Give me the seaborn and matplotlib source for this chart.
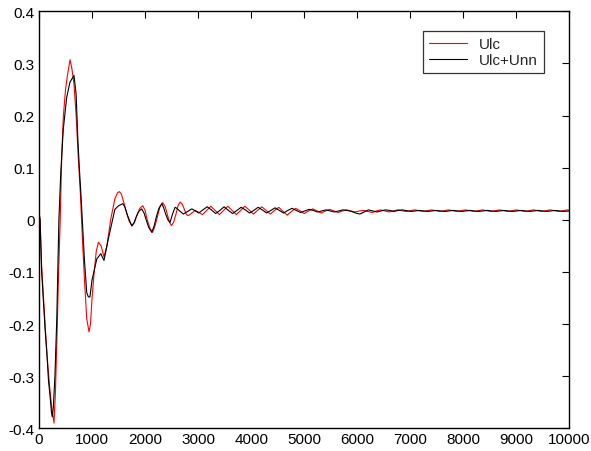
import matplotlib
matplotlib.use("Agg")
import matplotlib.pyplot as plt
import seaborn as sns
import pandas as pd

# Ulc response (red)
ulc_t = [0, 20, 50, 85, 120, 160, 200, 240, 283, 310, 340, 370, 400, 430, 460, 500,
         540, 585, 620, 660, 700, 740, 780, 820, 860, 900, 943, 970, 1000, 1040, 1080,
         1120, 1170, 1225, 1280, 1350, 1430, 1480, 1515, 1550, 1580, 1660, 1700, 1750,
         1800, 1850, 1900, 1955, 2000, 2040, 2090, 2140, 2180, 2230, 2280, 2330, 2380,
         2420, 2460, 2500, 2540, 2580, 2620, 2660, 2700, 2740, 2780, 2815, 2870, 2940,
         3000, 3080, 3160, 3240, 3320, 3400, 3480, 3560, 3640, 3720, 3800, 3880, 3960,
         4040, 4120, 4200, 4280, 4360, 4440, 4520, 4600, 4680, 4760, 4840, 4920, 5000,
         5080, 5160, 5240, 5320, 5400, 5480, 5560, 5640, 5720, 5800, 5880, 5960, 6040,
         6120, 6200, 6280, 6360, 6440, 6520, 6600, 6680, 6760, 6920, 7080, 7240, 7400,
         7560, 7720, 7880, 8040, 8200, 8360, 8520, 8680, 8840, 9000, 9160, 9320, 9480,
         9640, 9800, 9960, 10000]
ulc_v = [0.015, 0.0, -0.09, -0.15, -0.21, -0.27, -0.32, -0.36, -0.39, -0.33, -0.22,
         -0.10, 0.0, 0.13, 0.20, 0.25, 0.28, 0.307, 0.29, 0.26, 0.20, 0.12, 0.05, -0.04,
         -0.12, -0.19, -0.215, -0.20, -0.15, -0.10, -0.06, -0.043, -0.05, -0.071, -0.05,
         0.0, 0.04, 0.052, 0.054, 0.05, 0.04, 0.01, -0.003, -0.011, -0.005, 0.01, 0.022,
         0.027, 0.018, 0.0, -0.016, -0.024, -0.014, 0.005, 0.025, 0.033, 0.025, 0.01,
         -0.005, -0.011, -0.004, 0.01, 0.027, 0.034, 0.03, 0.02, 0.01, 0.008, 0.012,
         0.018, 0.015, 0.010, 0.018, 0.026, 0.018, 0.010, 0.018, 0.026, 0.018, 0.010,
         0.018, 0.026, 0.019, 0.011, 0.018, 0.025, 0.018, 0.011, 0.018, 0.024, 0.016,
         0.009, 0.016, 0.022, 0.017, 0.012, 0.017, 0.021, 0.017, 0.013, 0.017, 0.020,
         0.017, 0.014, 0.017, 0.019, 0.017, 0.015, 0.017, 0.018, 0.016, 0.014, 0.017,
         0.019, 0.017, 0.015, 0.017, 0.019, 0.016, 0.019, 0.016, 0.019, 0.016, 0.019,
         0.016, 0.019, 0.016, 0.019, 0.016, 0.019, 0.016, 0.019, 0.016, 0.019, 0.016,
         0.019, 0.016, 0.019, 0.018]

# Ulc+Unn response (black)
unn_t = [0, 20, 50, 80, 115, 150, 180, 210, 235, 250, 270, 300, 335, 375, 410, 458,
         522, 584, 660, 700, 730, 760, 790, 855, 900, 930, 960, 1000, 1090, 1165, 1225,
         1300, 1430, 1500, 1580, 1620, 1670, 1750, 1790, 1830, 1880, 1935, 1980, 2020,
         2070, 2125, 2170, 2210, 2260, 2315, 2350, 2390, 2430, 2470, 2520, 2565, 2600,
         2640, 2720, 2800, 2880, 2950,
         3010, 3090, 3170, 3250, 3330, 3410, 3490, 3570, 3650, 3730, 3810, 3890, 3970,
         4050, 4130, 4210, 4290, 4370, 4450, 4530, 4610, 4690, 4770, 4850, 4930, 5010,
         5090, 5170, 5250, 5330, 5410, 5490, 5570, 5650, 5730, 5810, 5890, 5970, 6050,
         6130, 6210, 6290, 6370, 6450, 6530, 6610, 6690, 6770, 6850, 7010, 7170, 7330,
         7490, 7650, 7810, 7970, 8130, 8290, 8450, 8610, 8770, 8930, 9090, 9250, 9410,
         9570, 9730, 9890, 10000]
unn_v = [0.014, 0.0, -0.10, -0.15, -0.21, -0.26, -0.31, -0.34, -0.37, -0.378, -0.36,
         -0.30, -0.19, 0.0, 0.09, 0.174, 0.235, 0.264, 0.277, 0.24, 0.16, 0.10, 0.05,
         -0.075, -0.14, -0.148, -0.148, -0.115, -0.075, -0.065, -0.078, -0.04, 0.02,
         0.027, 0.031, 0.024, 0.008, -0.012, -0.006, 0.005, 0.016, 0.021, 0.013, 0.0,
         -0.015, -0.024, -0.012, 0.005, 0.022, 0.031, 0.023, 0.01, 0.0, -0.005, 0.012,
         0.024, 0.022, 0.018, 0.011, 0.016, 0.021, 0.017,
         0.013, 0.019, 0.025, 0.019, 0.012, 0.018, 0.025, 0.018, 0.012, 0.018, 0.024,
         0.019, 0.013, 0.018, 0.024, 0.019, 0.013, 0.018, 0.023, 0.018, 0.013, 0.018,
         0.022, 0.018, 0.014, 0.017, 0.020, 0.018, 0.015, 0.017, 0.019, 0.017, 0.015,
         0.017, 0.019, 0.018, 0.016, 0.013, 0.011, 0.015, 0.019, 0.017, 0.015, 0.017,
         0.019, 0.018, 0.016, 0.018, 0.019, 0.016, 0.018, 0.016, 0.018, 0.016, 0.018,
         0.016, 0.018, 0.016, 0.018, 0.016, 0.018, 0.016, 0.018, 0.016, 0.018, 0.016,
         0.018, 0.016, 0.017]

x_ticks = [0, 1000, 2000, 3000, 4000, 5000, 6000, 7000, 8000, 9000, 10000]
y_ticks = [-0.4, -0.3, -0.2, -0.1, 0, 0.1, 0.2, 0.3, 0.4]
y_tick_labels = ["-0.4", "-0.3", "-0.2", "-0.1", "0", "0.1", "0.2", "0.3", "0.4"]

df = pd.concat([
    pd.DataFrame({"t": ulc_t, "u": ulc_v, "series": "Ulc"}),
    pd.DataFrame({"t": unn_t, "u": unn_v, "series": "Ulc+Unn"}),
])

sns.set_style("white")
plt.rcParams["font.family"] = ["Liberation Sans", "DejaVu Sans"]
plt.rcParams["axes.unicode_minus"] = False

fig = plt.figure(figsize=(5.91, 4.52), dpi=100)
ax = fig.add_axes([0.066, 0.0502, 0.8976, 0.9226])

sns.lineplot(data=df, x="t", y="u", hue="series", sort=False, estimator=None,
             palette={"Ulc": "#ff0000", "Ulc+Unn": "#000000"}, linewidth=0.8, ax=ax)

ax.set_xlim(0, 10000)
ax.set_ylim(-0.4, 0.4)
ax.set_xticks(x_ticks)
ax.set_xticklabels([str(v) for v in x_ticks])
ax.set_yticks(y_ticks)
ax.set_yticklabels(y_tick_labels)
ax.set_xlabel("")
ax.set_ylabel("")
ax.tick_params(direction="in", length=5, width=0.8, top=True, right=True,
               labelsize=11, colors="black", pad=3)
for s in ax.spines.values():
    s.set_visible(True)
    s.set_color("black")
    s.set_linewidth(1.0)

leg = ax.legend(loc="upper left", bbox_to_anchor=(0.723, 0.953), frameon=True,
                fancybox=False, fontsize=11, handlelength=2.5, borderpad=0.4,
                labelspacing=0.15, handletextpad=0.8, borderaxespad=0)
leg.get_frame().set_edgecolor("black")
leg.get_frame().set_linewidth(0.9)

fig.savefig("out.png", dpi=100, facecolor="white")
